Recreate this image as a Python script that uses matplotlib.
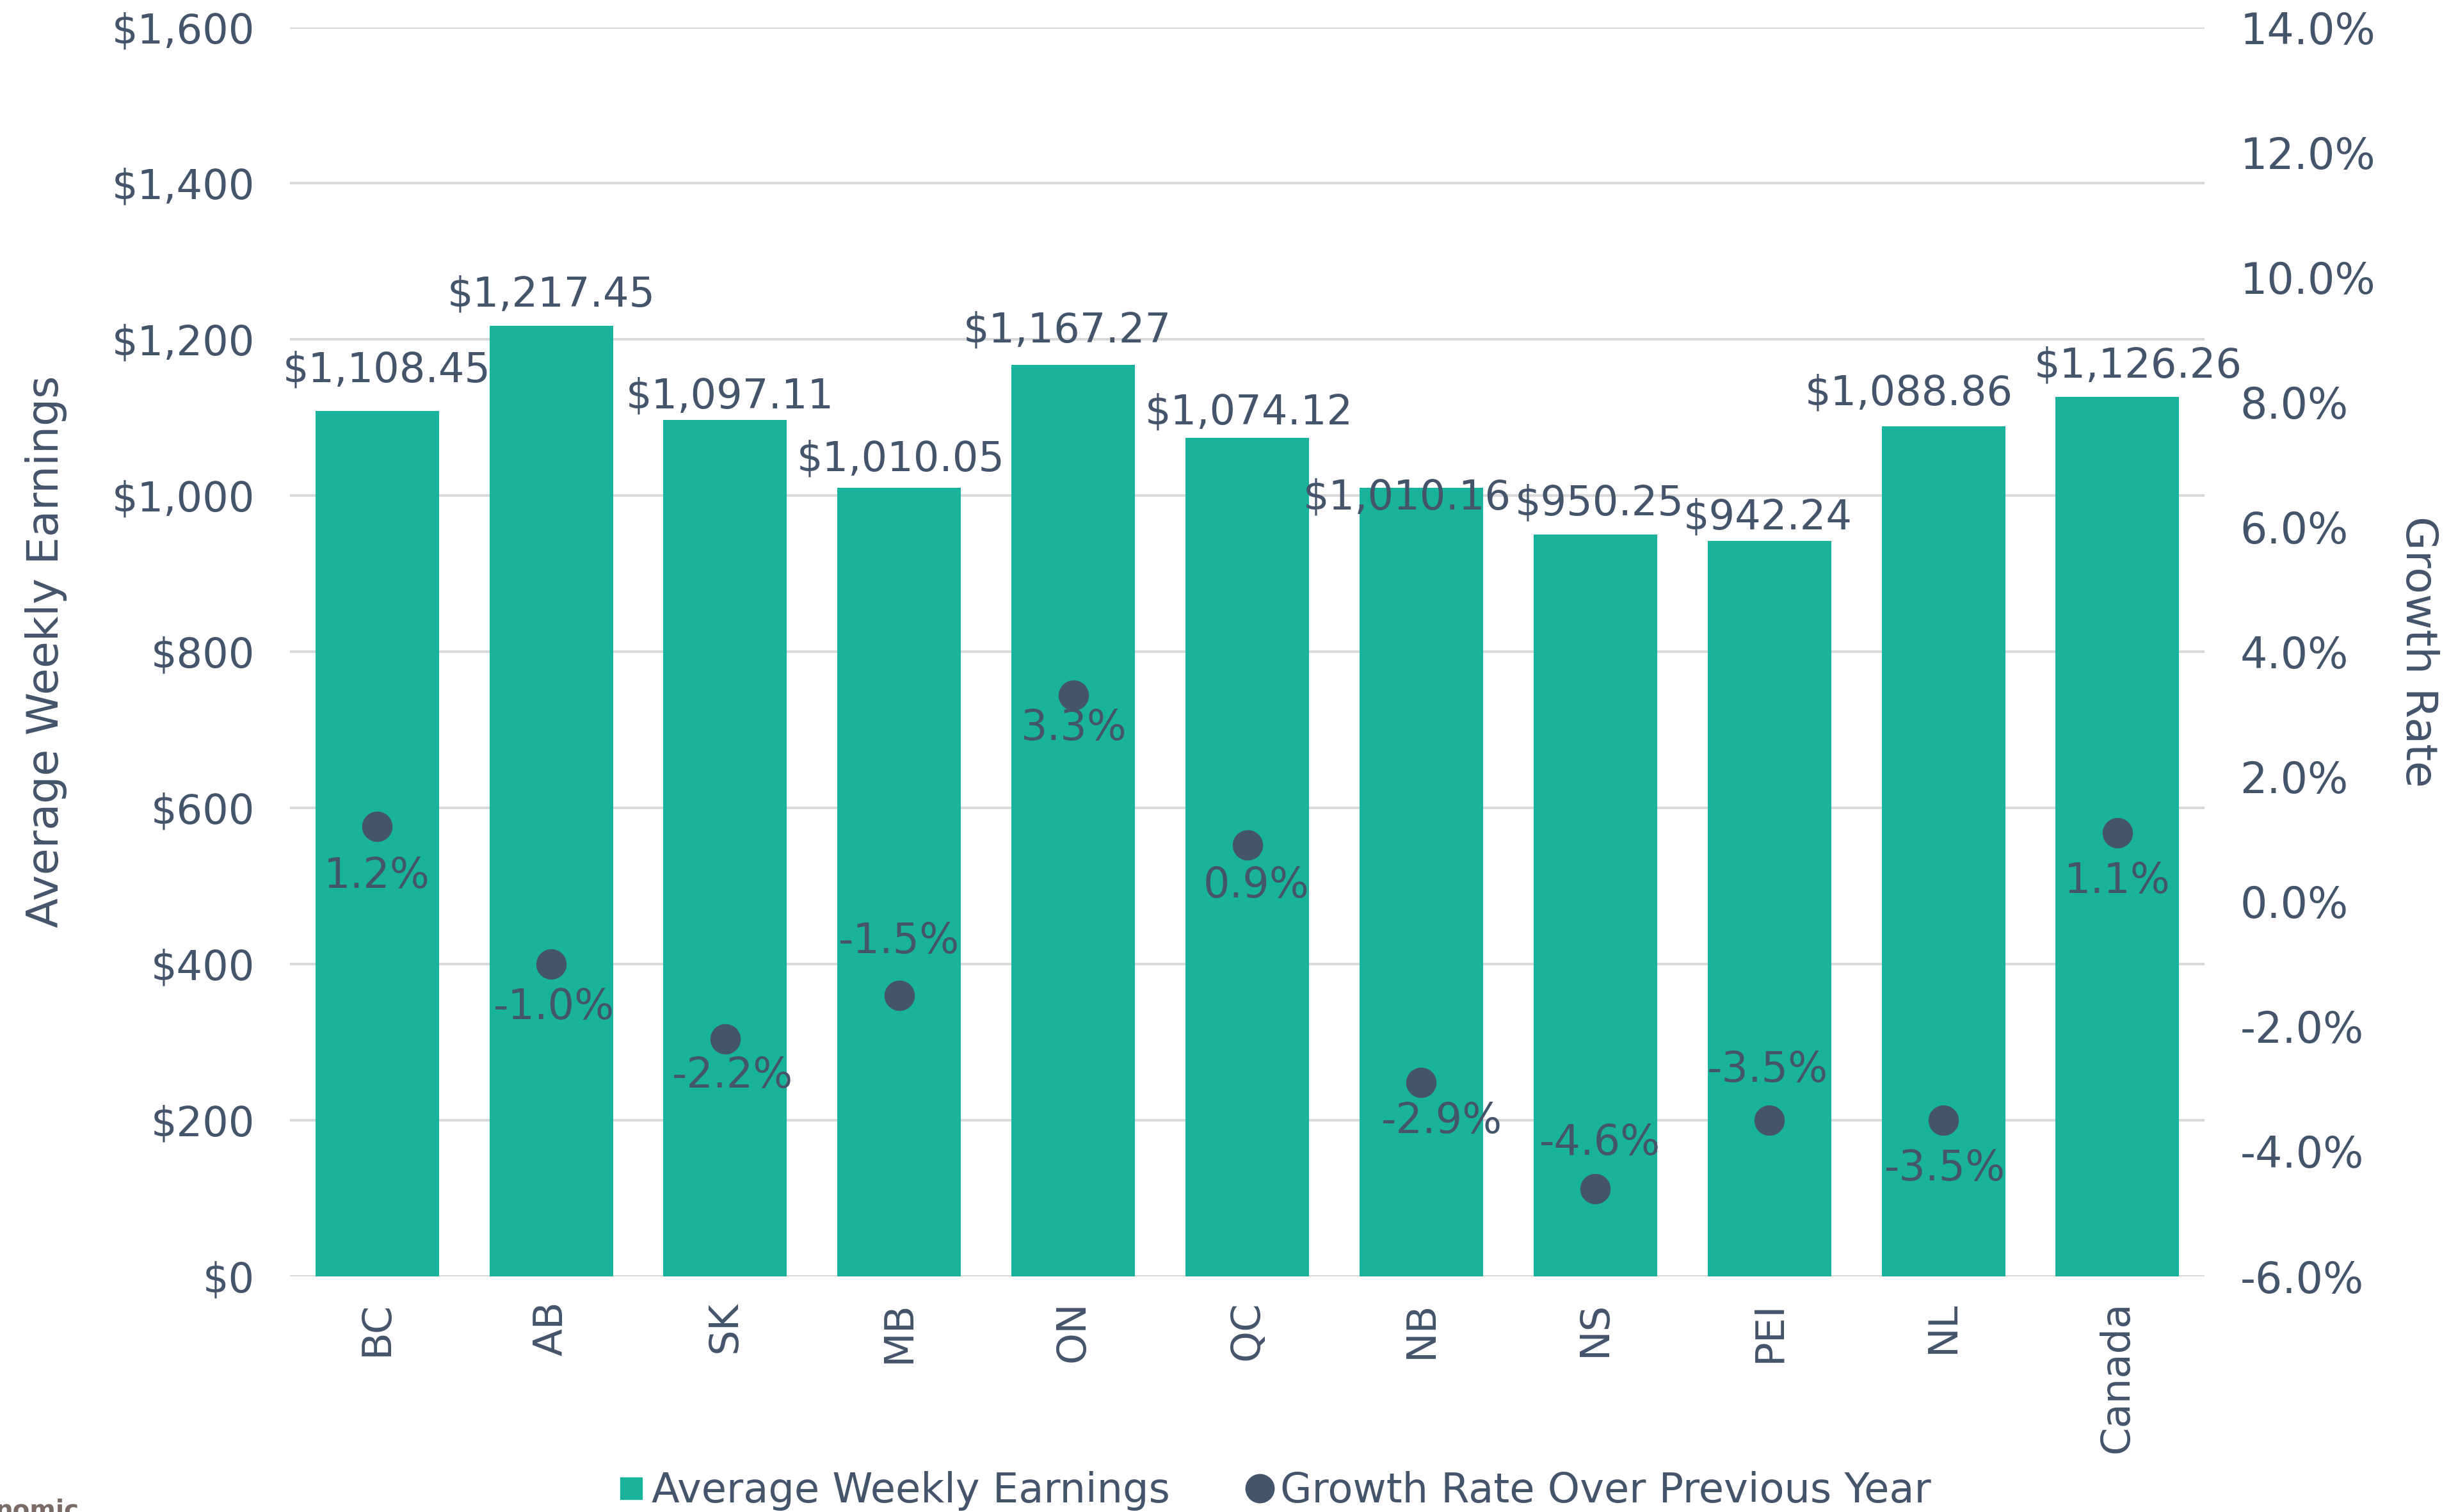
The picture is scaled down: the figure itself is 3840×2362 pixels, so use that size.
import matplotlib.pyplot as plt
from matplotlib.lines import Line2D
from matplotlib.ticker import FuncFormatter, MultipleLocator

# data
provinces = ['BC', 'AB', 'SK', 'MB', 'ON', 'QC', 'NB', 'NS', 'PEI', 'NL', 'Canada']
weekly_earnings = [1108.45, 1217.45, 1097.11, 1010.05, 1167.27, 1074.12,
                   1010.16, 950.25, 942.24, 1088.86, 1126.26]
growth_rate = [1.2, -1.0, -2.2, -1.5, 3.3, 0.9, -2.9, -4.6, -3.5, -3.5, 1.1]

TEAL = '#19b39b'
SLATE = '#44546a'
GRID = '#d9d9d9'
FS = 46

# label nudges (points) so labels sit where the original put them
earn_offsets = [(11, 46), (0, 35), (5, 26), (2, 32), (-7, 39), (2, 28),
                (-16, -11), (5, 35), (-2, 26), (-39, 37), (23, 35)]
growth_offsets = [(0, -56), (3, -49), (8, -42), (0, 60), (0, -37), (10, -46),
                  (23, -44), (5, 51), (-2, 56), (2, -55), (0, -55)]

plt.rcParams['font.family'] = 'DejaVu Sans'

fig = plt.figure(figsize=(38.41, 23.62), dpi=100)
ax = fig.add_axes([0.118, 0.156, 0.7786, 0.826])
ax2 = ax.twinx()

x = range(len(provinces))
ax.bar(x, weekly_earnings, width=0.71, color=TEAL, zorder=2)

ax.set_ylim(0, 1600)
ax.set_xlim(-0.5, len(provinces) - 0.5)
ax.yaxis.set_major_locator(MultipleLocator(200))
ax.yaxis.set_major_formatter(FuncFormatter(lambda v, p: f'${v:,.0f}'))
ax.grid(axis='y', color=GRID, linewidth=3, zorder=0)
ax.set_axisbelow(True)
ax.set_xticks(list(x))
ax.set_xticklabels(provinces, rotation=90, fontsize=45, color=SLATE)
ax.tick_params(axis='x', length=0, pad=28)
ax.tick_params(axis='y', length=0, pad=40, labelsize=FS, labelcolor=SLATE)
ax.set_ylabel('Average Weekly Earnings', fontsize=49, color=SLATE, labelpad=50)

for i, v in enumerate(weekly_earnings):
    ax.annotate(f'${v:,.2f}', (i, v), xytext=earn_offsets[i], textcoords='offset points',
                ha='center', va='center', fontsize=46, color=SLATE, zorder=5)

ax2.scatter(x, growth_rate, s=1100, color=SLATE, zorder=4)
ax2.set_ylim(-6, 14)
ax2.yaxis.set_major_locator(MultipleLocator(2))
ax2.yaxis.set_major_formatter(FuncFormatter(lambda v, p: f'{v:.1f}%'))
ax2.tick_params(axis='y', length=0, pad=40, labelsize=48, labelcolor=SLATE)
ax2.set_ylabel('Growth Rate', fontsize=49, color=SLATE, rotation=270, labelpad=72)

for i, g in enumerate(growth_rate):
    ax2.annotate(f'{g:.1f}%', (i, g), xytext=growth_offsets[i], textcoords='offset points',
                 ha='center', va='center', fontsize=47, color=SLATE, zorder=5)

for a in (ax, ax2):
    for s in a.spines.values():
        s.set_visible(False)

handles = [Line2D([], [], marker='s', color=TEAL, linestyle='none', markersize=25),
           Line2D([], [], marker='o', color=SLATE, linestyle='none', markersize=32)]
fig.legend(handles, ['Average Weekly Earnings', 'Growth Rate Over Previous Year'],
           loc='center', bbox_to_anchor=(0.516, 0.014), ncol=2, frameon=False,
           fontsize=46, labelcolor=SLATE, handletextpad=-0.1, handlelength=1.2,
           columnspacing=1.6)

fig.text(-0.002, 0.009, 'nomic', fontsize=28, fontweight='bold', color='#7b6b66',
         va='top', ha='left')

fig.savefig('out.png', dpi=100)
